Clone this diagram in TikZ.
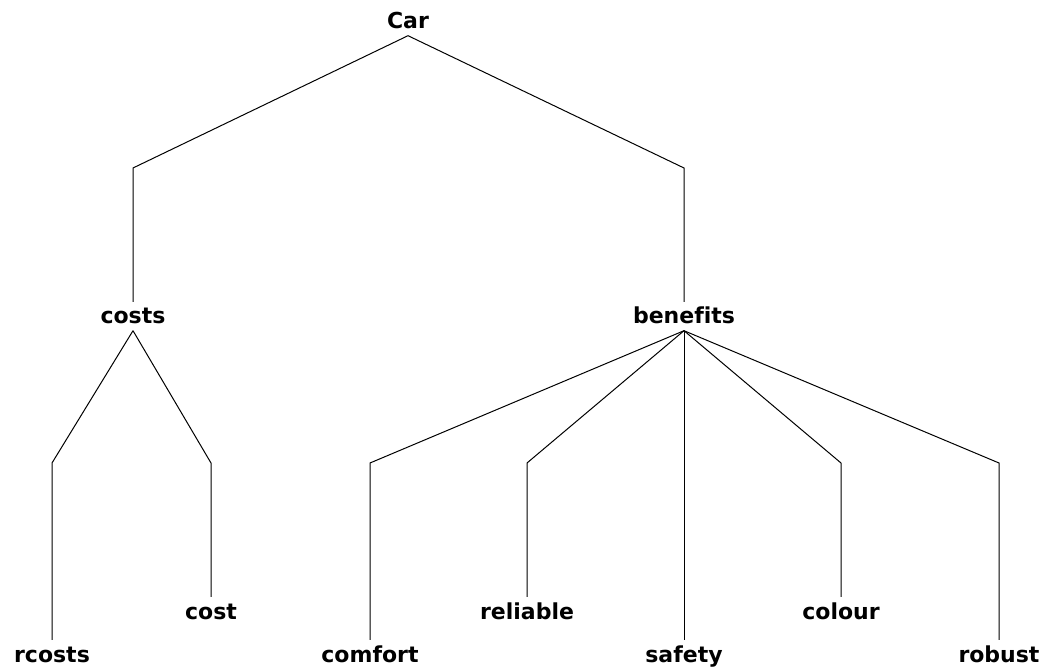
\documentclass[tikz,border=0pt]{standalone}
\usepackage{fontspec}
\setmainfont[Ligatures=NoCommon]{DejaVu Sans}
\begin{document}
\begin{tikzpicture}[x=1pt,y=-1pt,
  label/.style={font=\fontsize{22}{25}\selectfont\bfseries, inner xsep=0pt,
    inner ysep=6.5pt, text height=15.5pt, text depth=0pt, anchor=base},
  edge/.style={draw=black, line width=1pt, line join=miter}]
\useasboundingbox (0,0) rectangle (1047,668);
\fill[white] (0,0) rectangle (1047,668);
% rows where the branches turn downwards
\coordinate (row1) at (0,168);
\coordinate (row2) at (0,463);
% labels (placed on their baselines)
\node[label] (car) at (408,29) {Car};
\node[label] (costs) at (133,324) {costs};
\node[label] (benefits) at (684,324) {benefits};
\node[label] (rcosts) at (52,662) {rcosts};
\node[label] (cost) at (211,619) {cost};
\node[label] (comfort) at (370,662) {comfort};
\node[label] (reliable) at (527,619) {reliable};
\node[label] (safety) at (684,662) {safety};
\node[label] (colour) at (841,619) {colour};
\node[label] (robust) at (999,662) {robust};
% branches
\foreach \c in {costs,benefits}
  \draw[edge] (car.south) -- (\c.north |- row1) -- (\c.north);
\foreach \c in {rcosts,cost}
  \draw[edge] (costs.south) -- (\c.north |- row2) -- (\c.north);
\foreach \c in {comfort,reliable,colour,robust}
  \draw[edge] (benefits.south) -- (\c.north |- row2) -- (\c.north);
\draw[edge] (benefits.south) -- (safety.north);
\end{tikzpicture}
\end{document}
